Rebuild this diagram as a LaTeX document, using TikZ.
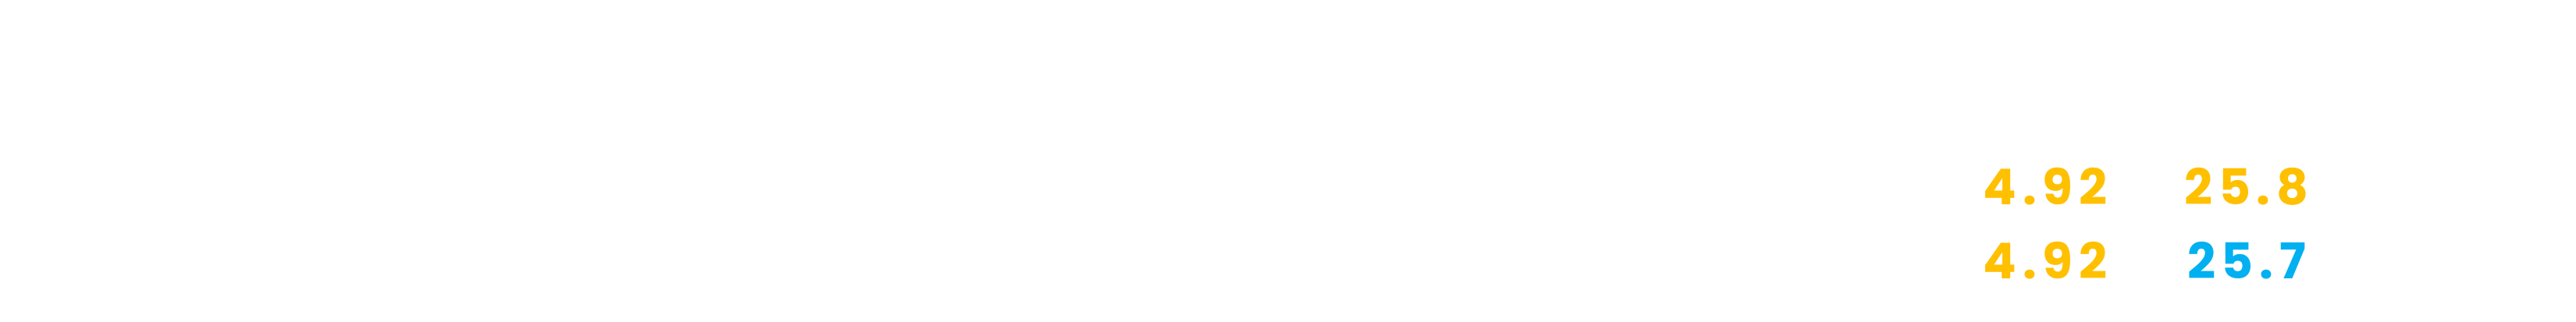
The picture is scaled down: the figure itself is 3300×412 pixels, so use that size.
\documentclass[tikz,border=0pt]{standalone}
\usepackage{fontspec}
\setmainfont{Poppins}[UprightFont=* Bold]
\definecolor{numyellow}{HTML}{FFC000}
\definecolor{numblue}{HTML}{00B0F0}
\tikzset{
  numval/.style={inner sep=0pt, outer sep=0pt, anchor=center,
    font=\fontsize{18}{18}\selectfont\addfontfeature{LetterSpace=12}},
}
\begin{document}
\begin{tikzpicture}[x=0.01cm,y=0.01cm]
\fill[white] (0,0) rectangle (3300,412);
\useasboundingbox (0,0) rectangle (3300,412);
\node[numval, text=numyellow] (a1) at (2620,173) {4.92};
\node[numval, text=numyellow] (b1) at (2878,173) {25.8};
\node[numval, text=numyellow] (a2) at (2620,78) {4.92};
\node[numval, text=numblue] (b2) at (2878,78) {25.7};
\end{tikzpicture}
\end{document}
